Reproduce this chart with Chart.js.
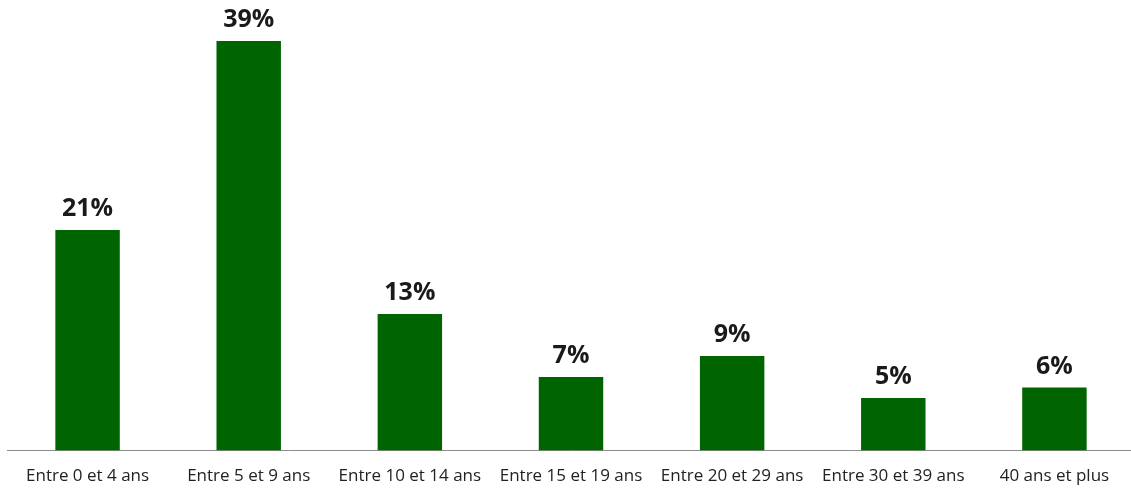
<!DOCTYPE html>
<html><head><meta charset="utf-8">
<script src="https://cdn.jsdelivr.net/npm/chart.js@4.4.1/dist/chart.umd.min.js"></script>
<style>html,body{margin:0;padding:0;background:#fff;overflow:hidden;}#wrap{width:1131px;height:488px;position:relative;overflow:hidden;}</style>
</head><body><div id="wrap"><canvas id="c" width="1135" height="501"></canvas></div>
<script>
const categories = ["Entre 0 et 4 ans","Entre 5 et 9 ans","Entre 10 et 14 ans","Entre 15 et 19 ans","Entre 20 et 29 ans","Entre 30 et 39 ans","40 ans et plus"];
const values = [21, 39, 13, 7, 9, 5, 6];
const valueLabels = ["21%","39%","13%","7%","9%","5%","6%"];

const labelPlugin = {
  id: 'valLabels',
  afterDatasetsDraw(chart) {
    const ctx = chart.ctx;
    const meta = chart.getDatasetMeta(0);
    ctx.save();
    ctx.font = 'bold 25px "Open Sans", sans-serif';
    ctx.fillStyle = '#1a1a1a';
    ctx.textAlign = 'center';
    ctx.textBaseline = 'alphabetic';
    meta.data.forEach((bar, i) => {
      ctx.fillText(valueLabels[i], bar.x, bar.y - 14);
    });
    ctx.restore();
  }
};

new Chart(document.getElementById('c'), {
  type: 'bar',
  data: { labels: categories, datasets: [{ data: values, backgroundColor: '#006400', barPercentage: 0.4, categoryPercentage: 1.0 }] },
  options: {
    responsive: false, animation: false,
    layout: { padding: { left: 7, right: 0, top: 0, bottom: 0 } },
    plugins: { legend: { display: false }, tooltip: { enabled: false } },
    scales: {
      x: {
        grid: { display: false, drawTicks: false },
        border: { display: true, color: '#8c8c8c', width: 1 },
        ticks: { color: '#222', font: { family: '"Open Sans", sans-serif', size: 17 }, padding: 15, maxRotation: 0, autoSkip: false }
      },
      y: { display: false, min: 0, max: 42.9 }
    }
  },
  plugins: [labelPlugin]
});
</script></body></html>
